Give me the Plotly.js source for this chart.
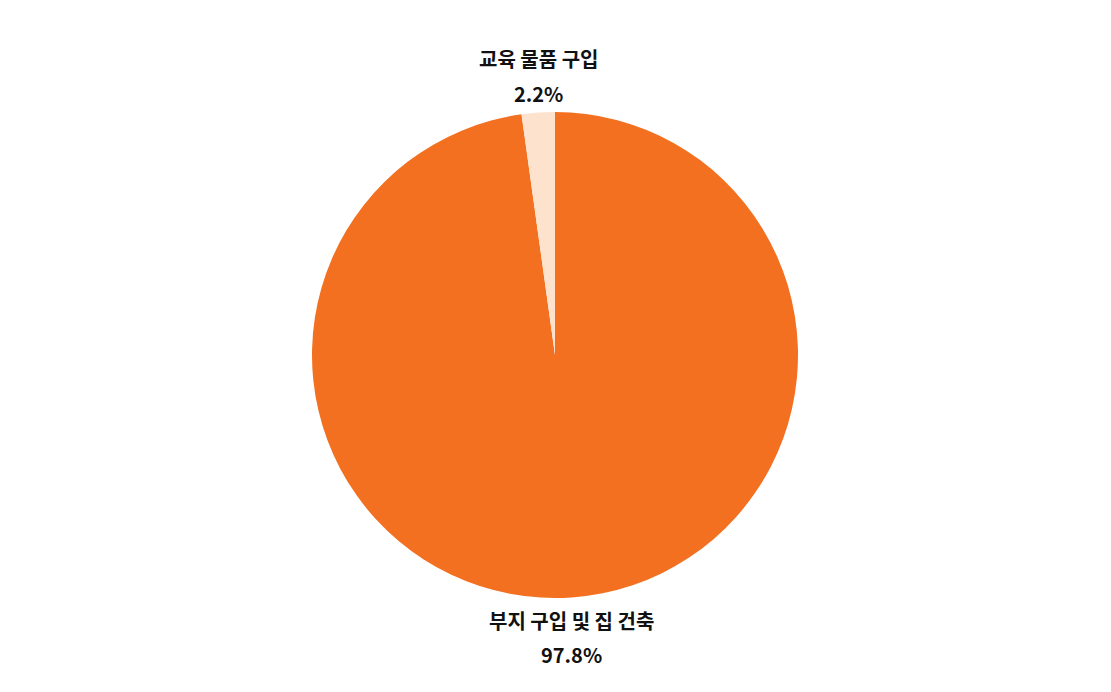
<!DOCTYPE html>
<html>
<head>
<meta charset="utf-8">
<script src="https://cdn.plot.ly/plotly-3.0.1.min.js"></script>
<style>
  html, body { margin: 0; padding: 0; background: #fff; }
  #chart { width: 1111px; height: 692px; }
</style>
</head>
<body>
<div id="chart"></div>
<script>
// spending split
var labels = ['부지 구입 및 집 건축', '교육 물품 구입']
var values = [97.8, 2.2]
var colors = ['#F37021', '#FDE2CD']

var W = 1111, H = 692
var cx = 555, cy = 355, R = 243   // pie centre / radius in px

var trace = {
  type: 'pie',
  labels: labels,
  values: values,
  sort: false,
  direction: 'clockwise',
  rotation: 0,
  marker: { colors: colors, line: { width: 0 } },
  textinfo: 'none',
  hoverinfo: 'label+percent',
  showlegend: false,
  domain: { x: [(cx - R) / W, (cx + R) / W], y: [(H - cy - R) / H, (H - cy + R) / H] }
}

// labels centred on each slice's mid angle, just outside the rim
var total = values.reduce(function(a, b) { return a + b }, 0)
var annots = []
var cum = 0
values.forEach(function(v, i) {
  var mid = (cum + v / 2) / total * 2 * Math.PI
  cum += v
  var px = cx + R * Math.sin(mid)
  var py = cy - R * Math.cos(mid)
  var pct = (v / total * 100).toFixed(1) + '%'
  var up = Math.cos(mid) > 0
  var yl = up ? py - 54 : py + 23
  var yp = up ? py - 19 : py + 57
  var f = { family: 'Noto Sans CJK KR', size: 20, color: '#111', weight: 'bold' }
  annots.push({ xref: 'paper', yref: 'paper', x: px / W, y: 1 - yl / H, text: labels[i],
    showarrow: false, xanchor: 'center', yanchor: 'middle', font: f })
  annots.push({ xref: 'paper', yref: 'paper', x: px / W, y: 1 - yp / H, text: pct,
    showarrow: false, xanchor: 'center', yanchor: 'middle', font: f })
})

var layout = {
  width: W,
  height: H,
  margin: { l: 0, r: 0, t: 0, b: 0 },
  paper_bgcolor: '#fff',
  annotations: annots
}

Plotly.newPlot('chart', [trace], layout, { displayModeBar: false })
</script>
</body>
</html>
